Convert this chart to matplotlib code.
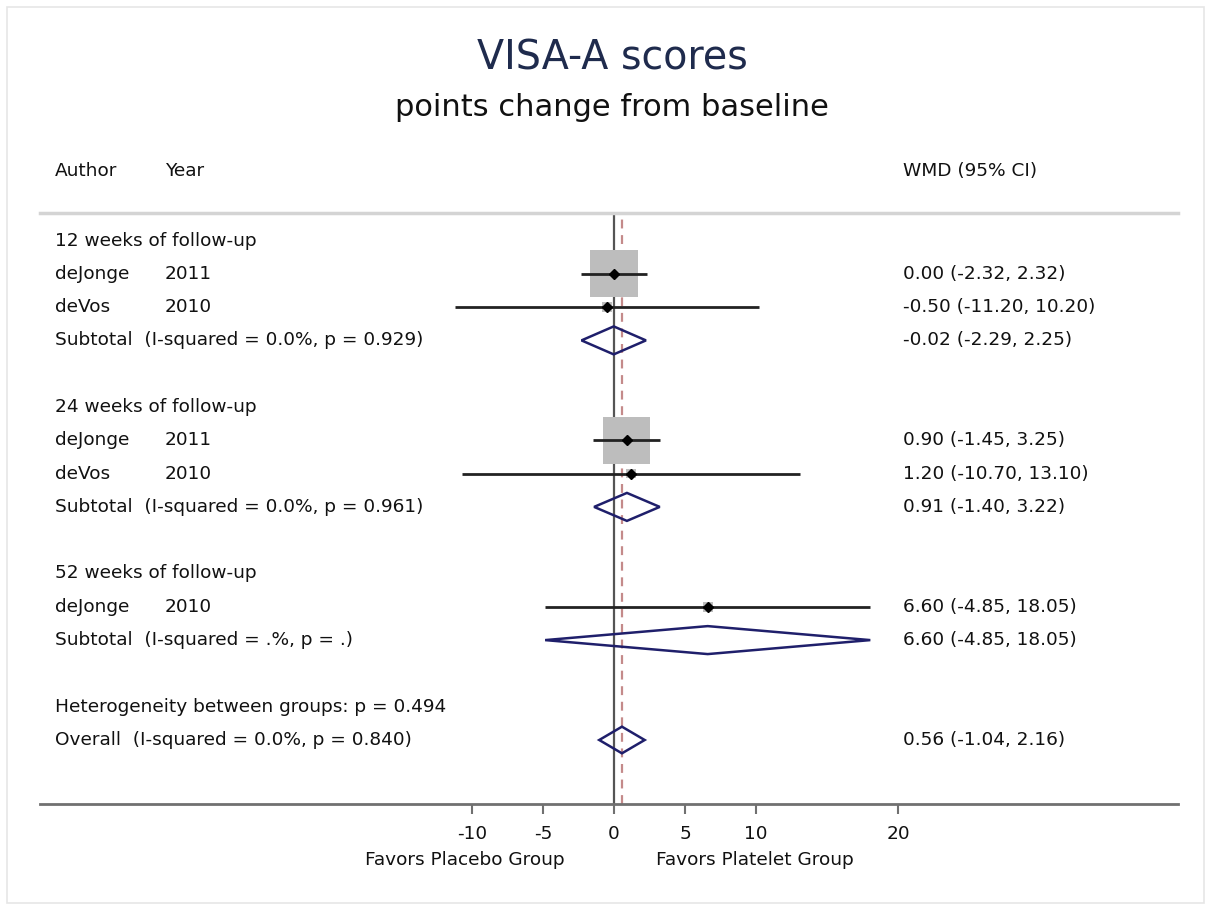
import numpy as np
import matplotlib
matplotlib.use("Agg")
import matplotlib.pyplot as plt
from matplotlib.patches import Rectangle, Polygon
import matplotlib.transforms as mtransforms

# ---------------- data ----------------
title = "VISA-A scores"
subtitle = "points change from baseline"
groups = ["12 weeks of follow-up", "24 weeks of follow-up", "52 weeks of follow-up"]
study_group = [0, 0, 1, 1, 2]
study_author = ["deJonge", "deVos", "deJonge", "deVos", "deJonge"]
study_year = ["2011", "2010", "2011", "2010", "2010"]
study_est = [0.00, -0.50, 0.90, 1.20, 6.60]
study_lo = [-2.32, -11.20, -1.45, -10.70, -4.85]
study_hi = [2.32, 10.20, 3.25, 13.10, 18.05]
sub_est = [-0.02, 0.91, 6.60]
sub_lo = [-2.29, -1.40, -4.85]
sub_hi = [2.25, 3.22, 18.05]
sub_het = ["I-squared = 0.0%, p = 0.929", "I-squared = 0.0%, p = 0.961",
           "I-squared = .%, p = ."]
het_between = "Heterogeneity between groups: p = 0.494"
overall_est, overall_lo, overall_hi = 0.56, -1.04, 2.16
overall_het = "I-squared = 0.0%, p = 0.840"
xticks = [-10, -5, 0, 5, 10, 20]
favors_left = "Favors Placebo Group"
favors_right = "Favors Platelet Group"

# ---------------- layout ----------------
W, H = 1211, 908
X0PX, XSCALE = 614.0, 14.2          # pixel of x=0, pixels per unit
ROW0PX, ROWPX = 240.5, 33.3         # pixel of first row, pixels per row
AX_L, AX_R, AX_T, AX_B = 40, 1178, 213, 804

fig = plt.figure(figsize=(W / 100, H / 100), dpi=100)
fig.patch.set_facecolor("white")
plt.rcParams["font.family"] = ["DejaVu Sans"]

ax = fig.add_axes([AX_L / W, (H - AX_B) / H, (AX_R - AX_L) / W, (AX_B - AX_T) / H])
ax.set_xlim((AX_L - X0PX) / XSCALE, (AX_R - X0PX) / XSCALE)
ax.set_ylim((AX_B - ROW0PX) / ROWPX, (AX_T - ROW0PX) / ROWPX)

px = mtransforms.Affine2D().scale(1.0 / W, 1.0 / H) + fig.transFigure
trow = mtransforms.blended_transform_factory(px, ax.transData)

FS = 13.3
TXT = "#111111"
NAVY = "#1f1f6b"


def fmt(e, l, h):
    return f"{e:.2f} ({l:.2f}, {h:.2f})"


def left(r, s, x=55):
    ax.text(x, r, s, transform=trow, fontsize=FS, color=TXT, va="center", ha="left")


def right(r, s):
    ax.text(903, r, s, transform=trow, fontsize=FS, color=TXT, va="center", ha="left")


def diamond(r, e, l, h, hh=0.42):
    ax.add_patch(Polygon([(l, r), (e, r - hh), (h, r), (e, r + hh)], closed=True,
                         fill=False, edgecolor=NAVY, lw=1.8, zorder=5))


# reference lines
ax.axvline(0, color="#555555", lw=1.6, zorder=1)
ax.axvline(overall_est, color="#c48a8a", lw=1.6, ls=(0, (4, 3)), zorder=1)

row = 0
for g, gname in enumerate(groups):
    left(row, gname)
    row += 1
    for i in range(len(study_est)):
        if study_group[i] != g:
            continue
        e, l, h = study_est[i], study_lo[i], study_hi[i]
        se = (h - l) / (2 * 1.96)
        w = 1.0 / se ** 2
        side = 56.0 * np.sqrt(w)
        sw, sh = side / XSCALE, side / ROWPX
        ax.add_patch(Rectangle((e - sw / 2, row - sh / 2), sw, sh,
                               facecolor="#bdbdbd", edgecolor="none", zorder=2))
        ax.plot([l, h], [row, row], color="#222222", lw=2.0, zorder=3,
                solid_capstyle="butt")
        ax.plot([e], [row], marker="D", ms=5, color="black", zorder=4)
        left(row, study_author[i])
        left(row, study_year[i], x=165)
        right(row, fmt(e, l, h))
        row += 1
    left(row, f"Subtotal  ({sub_het[g]})")
    diamond(row, sub_est[g], sub_lo[g], sub_hi[g])
    right(row, fmt(sub_est[g], sub_lo[g], sub_hi[g]))
    row += 2

left(row, het_between)
row += 1
left(row, f"Overall  ({overall_het})")
diamond(row, overall_est, overall_lo, overall_hi, hh=0.40)
right(row, fmt(overall_est, overall_lo, overall_hi))

# axes styling
for s in ["left", "right"]:
    ax.spines[s].set_visible(False)
ax.spines["top"].set_color("#d4d4d4")
ax.spines["top"].set_linewidth(2.5)
ax.spines["bottom"].set_color("#707070")
ax.spines["bottom"].set_linewidth(2.0)
ax.set_yticks([])
ax.set_xticks(xticks)
ax.set_xticklabels([str(t) for t in xticks])
ax.tick_params(axis="x", direction="out", length=7, width=1.5, color="#707070",
               labelsize=FS, labelcolor=TXT, pad=8)

# favors labels
fig.text(465 / W, 1 - 860 / H, favors_left, fontsize=FS, color=TXT, ha="center", va="center")
fig.text(755 / W, 1 - 860 / H, favors_right, fontsize=FS, color=TXT, ha="center", va="center")

# header
fig.text(55 / W, 1 - 171 / H, "Author", fontsize=FS, color=TXT, va="center")
fig.text(165 / W, 1 - 171 / H, "Year", fontsize=FS, color=TXT, va="center")
fig.text(903 / W, 1 - 171 / H, "WMD (95% CI)", fontsize=FS, color=TXT, va="center")

# titles
fig.text(612 / W, 1 - 58 / H, title, fontsize=28.5, color="#1f2b4d", ha="center", va="center")
fig.text(612 / W, 1 - 108 / H, subtitle, fontsize=22, color="#111111", ha="center", va="center")

# outer faint frame
fig.patches.append(Rectangle((7 / W, 1 - 903 / H), 1197 / W, 896 / H, transform=fig.transFigure,
                             fill=False, edgecolor="#e6e6e6", lw=1.2))

fig.savefig("out.png", dpi=100, facecolor="white")
